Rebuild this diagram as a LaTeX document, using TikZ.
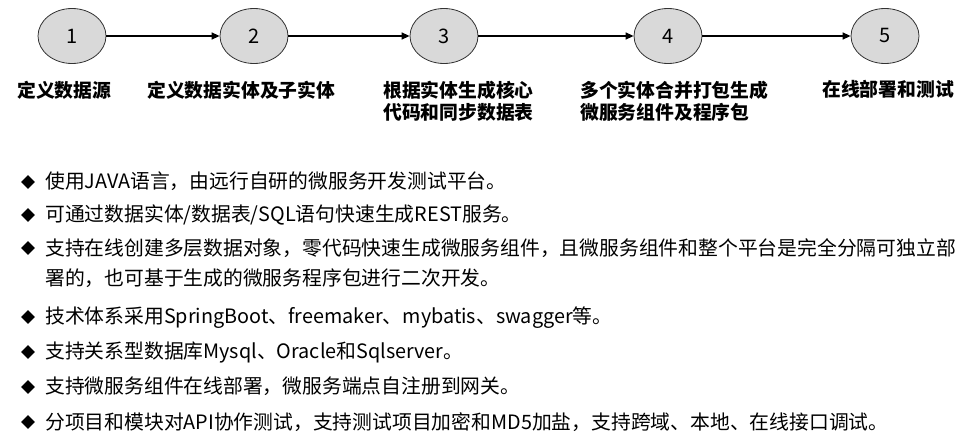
\documentclass[tikz,border=0pt]{standalone}
\usepackage{fontspec}
\newfontfamily\cjk{Noto Sans CJK SC}
\usetikzlibrary{shapes.geometric,arrows.meta}

\begin{document}
\begin{tikzpicture}[x=1pt,y=-1pt,
    stepnode/.style={ellipse,draw=black!80,fill=gray!30,line width=0.8pt,minimum width=68pt,minimum height=55pt,inner sep=0pt,font=\cjk\fontsize{20}{24}\selectfont},
    steplabel/.style={inner sep=0pt,align=left,anchor=north west,font=\cjk\bfseries\fontsize{18.8}{22}\selectfont},
    flow/.style={line width=1.4pt,-{Triangle[length=8pt,width=7pt]}},
    bullet/.style={diamond,fill=black,minimum size=14pt,inner sep=0pt},
    item/.style={inner sep=0pt,align=left,anchor=north west,font=\cjk\fontsize{19.8}{30}\selectfont}]
    \useasboundingbox (0,0) rectangle (962,433);

    % steps
    \node[stepnode] (c1) at (72,36) {1};
    \node[stepnode] (c2) at (254,36) {2};
    \node[stepnode] (c3) at (444,36) {3};
    \node[stepnode] (c4) at (668,36) {4};
    \node[stepnode] (c5) at (885,36) {5};

    \draw[flow] (c1) -- (c2);
    \draw[flow] (c2) -- (c3);
    \draw[flow] (c3) -- (c4);
    \draw[flow] (c4) -- (c5);

    \node[steplabel] (l1) at (17,80.5) {定义数据源};
    \node[steplabel] (l2) at (147,80.5) {定义数据实体及子实体};
    \node[steplabel] (l3) at (383,80.5) {根据实体生成核心\\代码和同步数据表};
    \node[steplabel] (l4) at (580,80.5) {多个实体合并打包生成\\微服务组件及程序包};
    \node[steplabel] (l5) at (822,80.5) {在线部署和测试};

    % bullet list
    \foreach \y [count=\i] in {182,215,248,317,352,387,422}
        \node[bullet] (b\i) at (28,\y) {};

    \node[item] (t1) at (45,172) {使用JAVA语言，由远行自研的微服务开发测试平台。};
    \node[item] (t2) at (45,205) {可通过数据实体/数据表/SQL语句快速生成REST服务。};
    \node[item] (t3) at (45,238) {支持在线创建多层数据对象，零代码快速生成微服务组件，且微服务组件和整个平台是完全分隔可独立部\\署的，也可基于生成的微服务程序包进行二次开发。};
    \node[item] (t4) at (45,307) {技术体系采用SpringBoot、freemaker、mybatis、swagger等。};
    \node[item] (t5) at (45,342) {支持关系型数据库Mysql、Oracle和Sqlserver。};
    \node[item] (t6) at (45,377) {支持微服务组件在线部署，微服务端点自注册到网关。};
    \node[item] (t7) at (45,412) {分项目和模块对API协作测试，支持测试项目加密和MD5加盐，支持跨域、本地、在线接口调试。};
\end{tikzpicture}
\end{document}
